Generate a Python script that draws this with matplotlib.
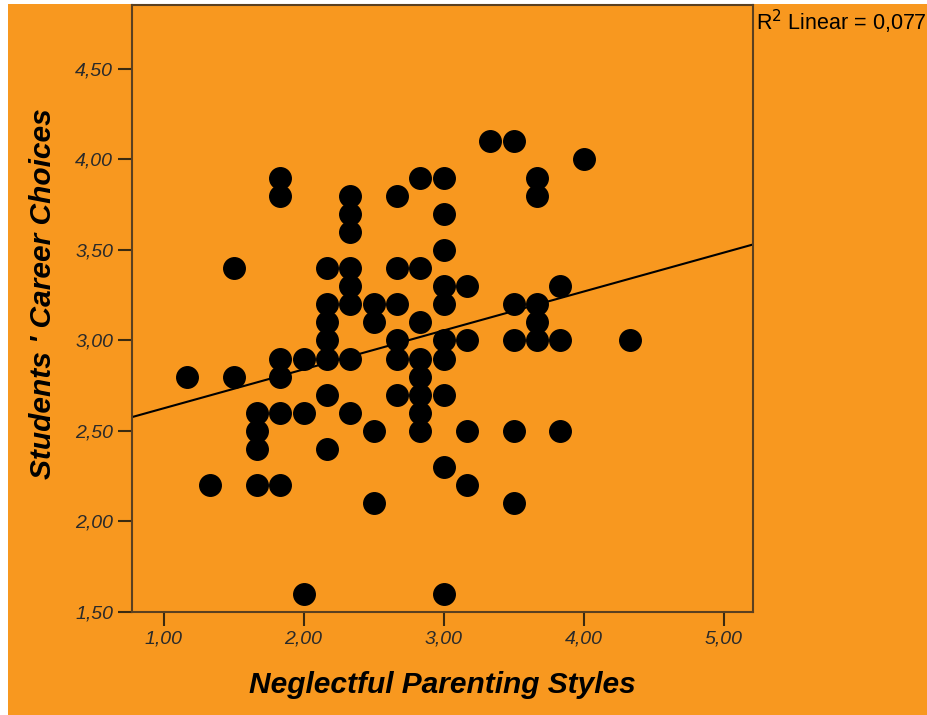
import numpy as np
import matplotlib.pyplot as plt
from matplotlib.patches import Rectangle

# Neglectful parenting score (x) -> list of career choice scores (y)
parenting = [1.17, 1.33, 1.5, 1.67, 1.83, 2.0, 2.17, 2.33, 2.5, 2.67,
             2.83, 3.0, 3.17, 3.33, 3.5, 3.67, 3.83, 4.0, 4.33]
career = [
    [2.8],
    [2.2],
    [3.4, 2.8],
    [2.6, 2.5, 2.4, 2.2],
    [3.9, 3.8, 2.9, 2.8, 2.6, 2.2],
    [2.9, 2.6, 1.6],
    [3.4, 3.2, 3.1, 3.0, 2.9, 2.7, 2.4],
    [3.8, 3.7, 3.6, 3.4, 3.3, 3.2, 2.9, 2.6],
    [3.2, 3.1, 2.5, 2.1],
    [3.8, 3.4, 3.2, 3.0, 2.9, 2.7],
    [3.9, 3.4, 3.1, 2.9, 2.8, 2.7, 2.6, 2.5],
    [3.9, 3.7, 3.5, 3.3, 3.2, 3.0, 2.9, 2.7, 2.3, 1.6],
    [3.3, 3.0, 2.5, 2.2],
    [4.1],
    [4.1, 3.2, 3.0, 2.5, 2.1],
    [3.9, 3.8, 3.2, 3.1, 3.0],
    [3.3, 3.0, 2.5],
    [4.0],
    [3.0],
]
# fit line as shown in the chart (overlapping cases are hidden in the dots)
fit_intercept = 2.41
fit_slope = 0.215
xticks = [1, 2, 3, 4, 5]
yticks = [1.5, 2.0, 2.5, 3.0, 3.5, 4.0, 4.5]
r2_text = "R$^2$ Linear = 0,077"

xs = []
ys = []
for xv, col in zip(parenting, career):
    for yv in col:
        xs.append(xv)
        ys.append(yv)

orange = "#F8981F"
plt.rcParams['font.family'] = ['Liberation Sans', 'DejaVu Sans']

fig = plt.figure(figsize=(9.28, 7.15), dpi=100)
fig.patch.set_facecolor("white")
fig.patches.append(Rectangle((8 / 928, 0), 1, 1 - 4 / 715, transform=fig.transFigure,
                             facecolor=orange, edgecolor="none", zorder=-10))

ax = fig.add_axes([132 / 928, 103 / 715, 621 / 928, 607 / 715])
ax.set_facecolor(orange)

ax.plot(xs, ys, 'o', color="black", markersize=15.5, zorder=3)

xlim = (0.775, 5.21)
lx = np.array(xlim)
ax.plot(lx, fit_intercept + fit_slope * lx, color="black", lw=1.5, zorder=2)

ax.set_xlim(*xlim)
ax.set_ylim(1.5, 4.853)
ax.set_xticks(xticks)
ax.set_yticks(yticks)
ax.set_xticklabels([f"{v:.2f}".replace(".", ",") for v in xticks])
ax.set_yticklabels([f"{v:.2f}".replace(".", ",") for v in yticks])
ax.tick_params(direction="out", length=10, width=1.5, color="#3a2a10",
               labelsize=14, labelcolor="#2a2a2a")
for lab in ax.get_xticklabels() + ax.get_yticklabels():
    lab.set_style("italic")
for sp in ax.spines.values():
    sp.set_color("#5a4020")
    sp.set_linewidth(1.5)

ax.set_xlabel("Neglectful Parenting Styles", fontsize=21.5, fontweight="bold",
              style="italic", labelpad=17)
ax.set_ylabel("Students ' Career Choices", fontsize=21.5, fontweight="bold",
              style="italic")
ax.yaxis.set_label_coords(-0.121, 0.525)

fig.text(756 / 928, 1 - 22 / 715, r2_text, fontsize=15.5, va="center", ha="left")

fig.savefig("out.png", dpi=100, facecolor=fig.get_facecolor())
